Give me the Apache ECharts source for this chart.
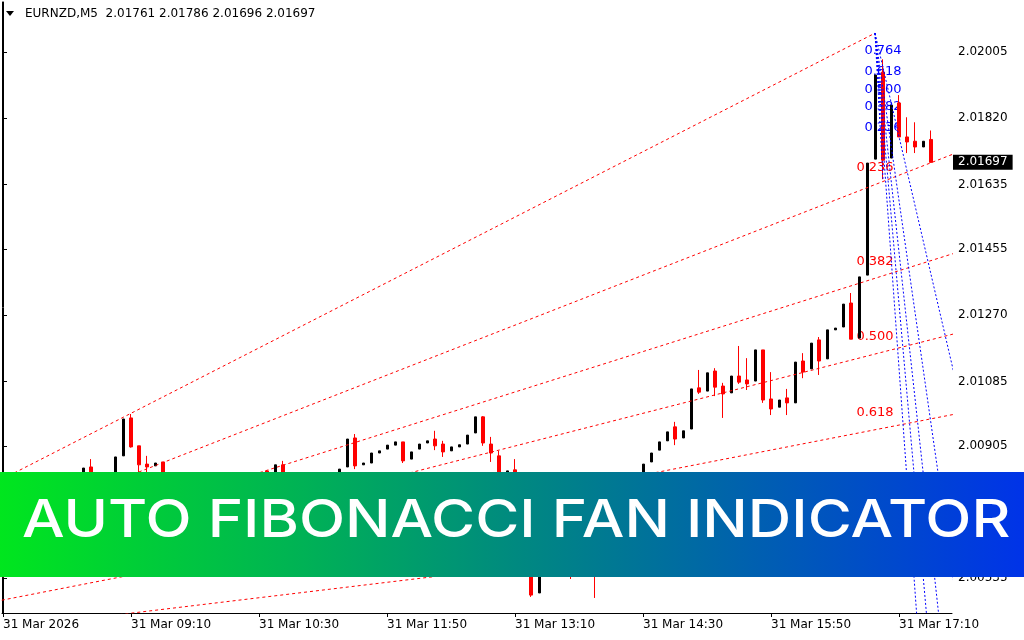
<!DOCTYPE html>
<html>
<head>
<meta charset="utf-8">
<script src="https://cdn.jsdelivr.net/npm/echarts@6/dist/echarts.min.js"></script>
<style>
html, body { margin: 0; padding: 0; background: #fff; }
#chart { width: 1024px; height: 640px; }
</style>
</head>
<body>
<div id="chart"></div>
<script>
// EURNZD M5, bar 0 = 31 Mar 07:50, one bar every 5 minutes
const symbol = 'EURNZD,M5'
const opens = [
  2.00700, 2.00735, 2.00710, 2.00760, 2.00745, 2.00790, 2.00770, 2.00800, 2.00785, 2.00805,
  2.00800, 2.00846, 2.00800, 2.00825, 2.00805, 2.00877, 2.00983, 2.00905, 2.00854, 2.00849,
  2.00860, 2.00815, 2.00790, 2.00760, 2.00775, 2.00745, 2.00720, 2.00740, 2.00755, 2.00740,
  2.00770, 2.00790, 2.00780, 2.00835, 2.00810, 2.00852, 2.00815, 2.00795, 2.00810, 2.00790,
  2.00805, 2.00795, 2.00815, 2.00846, 2.00927, 2.00852, 2.00857, 2.00885, 2.00896, 2.00907,
  2.00916, 2.00868, 2.00896, 2.00913, 2.00924, 2.00910, 2.00891, 2.00902, 2.00910, 2.00941,
  2.00986, 2.00910, 2.00877, 2.00790, 2.00838, 2.00780, 2.00700, 2.00494, 2.00600, 2.00640,
  2.00610, 2.00650, 2.00620, 2.00660, 2.00690, 2.00660, 2.00700, 2.00740, 2.00770, 2.00750,
  2.00800, 2.00860, 2.00893, 2.00919, 2.00958, 2.00927, 2.00952, 2.01067, 2.01058, 2.01114,
  2.01072, 2.01053, 2.01100, 2.01089, 2.01086, 2.01173, 2.01036, 2.01013, 2.01039, 2.01025,
  2.01142, 2.01120, 2.01201, 2.01148, 2.01229, 2.01237, 2.01304, 2.01206, 2.01382, 2.01706,
  2.01949, 2.01709, 2.01863, 2.01768, 2.01756, 2.01740, 2.01761
]
const closes = [
  2.00735, 2.00710, 2.00760, 2.00745, 2.00790, 2.00770, 2.00800, 2.00785, 2.00805, 2.00795,
  2.00843, 2.00815, 2.00825, 2.00805, 2.00874, 2.00980, 2.00902, 2.00852, 2.00846, 2.00857,
  2.00815, 2.00790, 2.00760, 2.00775, 2.00745, 2.00720, 2.00740, 2.00755, 2.00740, 2.00770,
  2.00790, 2.00780, 2.00805, 2.00805, 2.00852, 2.00815, 2.00795, 2.00810, 2.00790, 2.00805,
  2.00795, 2.00815, 2.00840, 2.00924, 2.00849, 2.00857, 2.00885, 2.00891, 2.00907, 2.00916,
  2.00863, 2.00888, 2.00910, 2.00919, 2.00905, 2.00888, 2.00902, 2.00908, 2.00935, 2.00986,
  2.00913, 2.00885, 2.00800, 2.00835, 2.00780, 2.00700, 2.00488, 2.00600, 2.00640, 2.00610,
  2.00650, 2.00620, 2.00660, 2.00690, 2.00660, 2.00700, 2.00740, 2.00770, 2.00750, 2.00800,
  2.00854, 2.00885, 2.00916, 2.00944, 2.00924, 2.00947, 2.01064, 2.01055, 2.01109, 2.01069,
  2.01050, 2.01100, 2.01083, 2.01078, 2.01173, 2.01033, 2.01008, 2.01033, 2.01025, 2.01139,
  2.01111, 2.01192, 2.01142, 2.01229, 2.01234, 2.01301, 2.01203, 2.01377, 2.01695, 2.01941,
  2.01703, 2.01857, 2.01768, 2.01754, 2.01740, 2.01756, 2.01697
]
const lows = [
  2.00690, 2.00700, 2.00705, 2.00735, 2.00740, 2.00760, 2.00765, 2.00775, 2.00780, 2.00785,
  2.00800, 2.00805, 2.00795, 2.00800, 2.00805, 2.00877, 2.00900, 2.00825, 2.00820, 2.00849,
  2.00805, 2.00780, 2.00750, 2.00755, 2.00735, 2.00710, 2.00715, 2.00735, 2.00730, 2.00735,
  2.00765, 2.00770, 2.00775, 2.00800, 2.00810, 2.00805, 2.00785, 2.00790, 2.00780, 2.00785,
  2.00785, 2.00790, 2.00815, 2.00846, 2.00840, 2.00852, 2.00857, 2.00885, 2.00896, 2.00907,
  2.00857, 2.00868, 2.00896, 2.00913, 2.00893, 2.00874, 2.00891, 2.00902, 2.00910, 2.00941,
  2.00905, 2.00860, 2.00790, 2.00790, 2.00760, 2.00680, 2.00483, 2.00494, 2.00590, 2.00600,
  2.00600, 2.00533, 2.00610, 2.00650, 2.00480, 2.00650, 2.00690, 2.00730, 2.00740, 2.00745,
  2.00800, 2.00860, 2.00893, 2.00919, 2.00907, 2.00927, 2.00952, 2.01050, 2.01058, 2.01044,
  2.00983, 2.01053, 2.01078, 2.01061, 2.01086, 2.01025, 2.00991, 2.01013, 2.00991, 2.01025,
  2.01094, 2.01120, 2.01103, 2.01148, 2.01229, 2.01237, 2.01203, 2.01206, 2.01382, 2.01706,
  2.01650, 2.01709, 2.01768, 2.01723, 2.01723, 2.01740, 2.01696
]
const highs = [
  2.00745, 2.00745, 2.00770, 2.00775, 2.00795, 2.00800, 2.00805, 2.00810, 2.00815, 2.00820,
  2.00843, 2.00868, 2.00828, 2.00830, 2.00874, 2.00980, 2.00994, 2.00905, 2.00877, 2.00857,
  2.00860, 2.00820, 2.00800, 2.00785, 2.00780, 2.00755, 2.00750, 2.00765, 2.00760, 2.00775,
  2.00800, 2.00800, 2.00815, 2.00836, 2.00852, 2.00863, 2.00825, 2.00815, 2.00820, 2.00812,
  2.00815, 2.00820, 2.00840, 2.00924, 2.00938, 2.00857, 2.00885, 2.00891, 2.00907, 2.00916,
  2.00916, 2.00888, 2.00910, 2.00919, 2.00947, 2.00919, 2.00902, 2.00908, 2.00935, 2.00986,
  2.00988, 2.00930, 2.00891, 2.00835, 2.00868, 2.00790, 2.00710, 2.00600, 2.00650, 2.00650,
  2.00660, 2.00660, 2.00670, 2.00700, 2.00700, 2.00710, 2.00750, 2.00780, 2.00785, 2.00810,
  2.00854, 2.00885, 2.00916, 2.00944, 2.00972, 2.00947, 2.01064, 2.01117, 2.01109, 2.01122,
  2.01081, 2.01100, 2.01184, 2.01150, 2.01173, 2.01173, 2.01111, 2.01033, 2.01064, 2.01139,
  2.01164, 2.01192, 2.01209, 2.01229, 2.01234, 2.01301, 2.01332, 2.01377, 2.01695, 2.01941,
  2.01985, 2.01857, 2.01885, 2.01823, 2.01809, 2.01756, 2.01786
]
const timeTicks = [0, 16, 32, 48, 64, 80, 96, 112]
const timeLabels = ['31 Mar 2026', '31 Mar 09:10', '31 Mar 10:30', '31 Mar 11:50',
  '31 Mar 13:10', '31 Mar 14:30', '31 Mar 15:50', '31 Mar 17:10']
const priceTicks = [2.00535, 2.00720, 2.00905, 2.01085, 2.01270, 2.01455, 2.01635, 2.01820, 2.02005]
const fibLevels = [0.236, 0.382, 0.5, 0.618, 0.764]
// fan anchors: [bar, price] for point 1 and point 2
const redFan = [[-48, 2.00265], [109, 2.02058]]
const blueFan = [[109, 2.02058], [110, 2.01650]]

const FONT = 'DejaVu Sans'
const X_MIN = -0.125, X_MAX = 118.625
const chart = echarts.init(document.getElementById('chart'))

const bars = opens.map((o, i) => [i, o, closes[i], lows[i], highs[i]])
const upBars = bars.filter(b => b[2] >= b[1])
const downBars = bars.filter(b => b[2] < b[1])
const last = bars[bars.length - 1]

function fan(anchor, color, reach, dash) {
  const [[x1, p1], [x2, p2]] = anchor
  const dotted = { color: color, width: 1, type: dash }
  const out = [{
    type: 'line', z: 4, silent: true, showSymbol: false, animation: false,
    lineStyle: dotted, data: [[x1, p1], [x2, p2]]
  }]
  const labels = []
  fibLevels.forEach(r => {
    const lp = p2 - r * (p2 - p1)
    out.push({
      type: 'line', z: 4, silent: true, showSymbol: false, animation: false,
      lineStyle: dotted,
      data: [[x1, p1], [x1 + reach * (x2 - x1), p1 + reach * (lp - p1)]]
    })
    labels.push([x2, lp, r.toFixed(3)])
  })
  out.push({
    type: 'scatter', z: 1, silent: true, symbolSize: 0, animation: false,
    itemStyle: { opacity: 1 },
    data: labels,
    label: {
      show: true, position: 'inside', offset: [0, -17], opacity: 1,
      formatter: p => p.value[2],
      color: color, fontFamily: FONT, fontSize: 13
    }
  })
  return out
}

chart.setOption({
  backgroundColor: '#fff',
  animation: false,
  grid: { left: 2, right: 72, top: 2, bottom: 27 },
  xAxis: {
    type: 'value', min: X_MIN, max: X_MAX,
    axisLine: { show: true, lineStyle: { color: '#000' } },
    axisTick: { show: true, customValues: timeTicks, length: 4, lineStyle: { color: '#000' } },
    axisLabel: {
      customValues: timeTicks, align: 'left', margin: 6,
      color: '#000', fontFamily: FONT, fontSize: 12,
      formatter: v => timeLabels[timeTicks.indexOf(Math.round(v))]
    },
    splitLine: { show: false }
  },
  yAxis: [{
    type: 'value', position: 'right', min: 2.00438, max: 2.02145,
    axisLine: { show: true, lineStyle: { color: '#000' } },
    axisTick: { show: true, customValues: priceTicks, length: 4, lineStyle: { color: '#000' } },
    axisLabel: {
      customValues: priceTicks, margin: 6,
      color: '#000', fontFamily: FONT, fontSize: 12,
      formatter: v => v.toFixed(5)
    },
    splitLine: { show: false }
  }, {
    type: 'value', position: 'left', min: 2.00438, max: 2.02145,
    axisLine: { show: true, lineStyle: { color: '#000' } },
    axisTick: { show: false }, axisLabel: { show: false }, splitLine: { show: false }
  }],
  series: [
    {
      type: 'candlestick', z: 2, barWidth: 2.5, data: upBars,
      encode: { x: 0, y: [1, 2, 3, 4] },
      itemStyle: { color: '#000', color0: '#000', borderColor: '#000', borderColor0: '#000', borderWidth: 1 }
    },
    {
      type: 'candlestick', z: 2, barWidth: 4, data: downBars,
      encode: { x: 0, y: [1, 2, 3, 4] },
      itemStyle: { color: '#f00', color0: '#f00', borderColor: '#f00', borderColor0: '#f00', borderWidth: 1 }
    },
    {
      // current bid tag on the price scale
      type: 'scatter', z: 6, silent: true, symbolSize: 0, animation: false, clip: false,
      itemStyle: { opacity: 1 },
      data: [[X_MAX, last[2]]],
      label: {
        show: true, position: 'right', distance: 1, opacity: 1,
        color: '#fff', backgroundColor: '#000', padding: [2, 5, 1, 5],
        fontFamily: FONT, fontSize: 12,
        formatter: p => p.value[1].toFixed(5)
      }
    },
    ...fan(redFan, '#ff0000', 2, [3, 3]),
    ...fan(blueFan, '#0000ff', 40, [2, 2])
  ],
  graphic: [
    { type: 'polygon', z: 10, shape: { points: [[6, 11], [14, 11], [10, 16]] }, style: { fill: '#000' } },
    {
      type: 'text', z: 10, x: 25, y: 14,
      style: {
        text: symbol + '  ' + [last[1], last[4], last[3], last[2]].map(v => v.toFixed(5)).join(' '),
        fill: '#000', font: '12px "DejaVu Sans"', textVerticalAlign: 'middle'
      }
    },
    {
      type: 'rect', z: 100, shape: { x: 0, y: 472, width: 1024, height: 105 },
      style: {
        fill: new echarts.graphic.LinearGradient(0, 0, 1, 0, [
          { offset: 0, color: '#00e61e' },
          { offset: 0.3, color: '#00b156' },
          { offset: 0.5, color: '#008a7f' },
          { offset: 0.7, color: '#0066a8' },
          { offset: 1, color: '#0033e8' }
        ])
      }
    },
    {
      type: 'text', z: 101, x: 22, y: 521, scaleX: 1.157,
      style: {
        text: 'AUTO FIBONACCI FAN INDICATOR', fill: '#fff',
        font: '500 52px Inter', textVerticalAlign: 'middle'
      }
    }
  ]
})
</script>
</body>
</html>
